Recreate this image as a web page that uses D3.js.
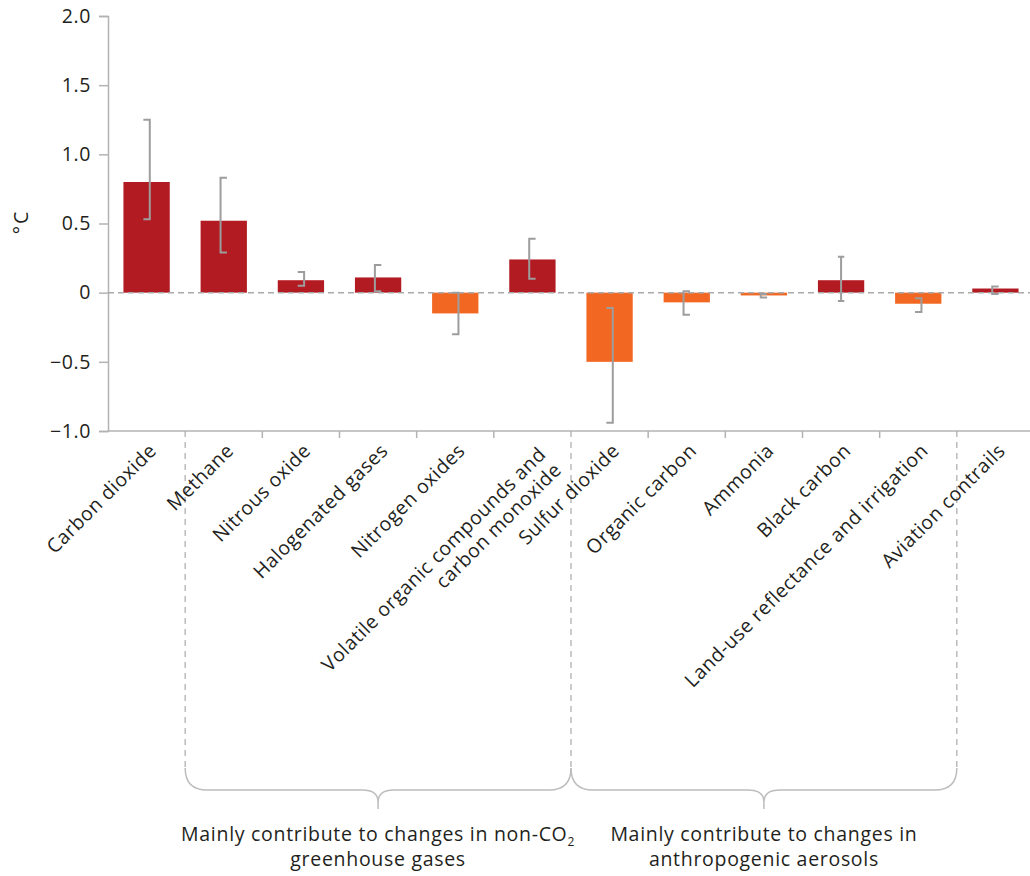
<!DOCTYPE html>
<html>
<head>
<meta charset="utf-8">
<script src="https://cdn.jsdelivr.net/npm/d3@7"></script>
<style>
  body { margin: 0; background: #fff; }
  text { font-family: "Open Sans", "Noto Sans", sans-serif; fill: #231f20; }
</style>
</head>
<body>
<svg id="chart" width="1030" height="876"></svg>
<script>
// Contribution to observed warming by emitted compound (°C)
const categories = [
  "Carbon dioxide", "Methane", "Nitrous oxide", "Halogenated gases",
  "Nitrogen oxides", "Volatile organic compounds and carbon monoxide",
  "Sulfur dioxide", "Organic carbon", "Ammonia", "Black carbon",
  "Land-use reflectance and irrigation", "Aviation contrails"
];
const categoryLines = [
  ["Carbon dioxide"], ["Methane"], ["Nitrous oxide"], ["Halogenated gases"],
  ["Nitrogen oxides"], ["Volatile organic compounds and", "carbon monoxide"],
  ["Sulfur dioxide"], ["Organic carbon"], ["Ammonia"], ["Black carbon"],
  ["Land-use reflectance and irrigation"], ["Aviation contrails"]
];
const values   = [0.80, 0.52, 0.09, 0.11, -0.15, 0.24, -0.50, -0.07, -0.02, 0.09, -0.08, 0.03];
const rangeLow = [0.53, 0.29, 0.05, 0.01, -0.30, 0.10, -0.94, -0.16, -0.035, -0.06, -0.14, -0.01];
const rangeHigh= [1.25, 0.83, 0.15, 0.20, 0.00, 0.39, -0.11, 0.01, -0.01, 0.26, -0.04, 0.045];
// which side the whisker caps point to: left "]", right "[", both "I"
const capSide  = ["left", "right", "left", "right", "left", "right", "left", "right", "right", "both", "left", "right"];

const yTickValues = [-1.0, -0.5, 0, 0.5, 1.0, 1.5, 2.0];
const yTickLabels = ["\u22121.0", "\u22120.5", "0", "0.5", "1.0", "1.5", "2.0"];
const yAxisTitle = "\u00B0C";

const groupNames = [
  ["Mainly contribute to changes in non-CO", "greenhouse gases"],
  ["Mainly contribute to changes in", "anthropogenic aerosols"]
];
const groupFirst = ["Methane", "Sulfur dioxide"];
const groupLast  = ["Volatile organic compounds and carbon monoxide", "Land-use reflectance and irrigation"];

const warmColor = "#b31b23";
const coolColor = "#f26722";
const greyLine  = "#b3b3b3";
const whiskerColor = "#9d9d9d";

const svg = d3.select("#chart");

const x = d3.scaleBand()
  .domain(categories)
  .range([108, 1034])
  .paddingInner(0.4)
  .paddingOuter(0.2);

const y = d3.scaleLinear().domain([-1, 2]).range([431, 16]);

// y axis
const yAxis = d3.axisLeft(y)
  .tickValues(yTickValues)
  .tickFormat((d, i) => yTickLabels[i])
  .tickSize(9)
  .tickPadding(8);
const yg = svg.append("g").attr("transform", "translate(108,0)").call(yAxis);
yg.select(".domain").attr("stroke", greyLine).attr("stroke-width", 1.5);
yg.selectAll(".tick line").attr("stroke", greyLine).attr("stroke-width", 1.5);
yg.selectAll(".tick text")
  .style("font-size", "19.5px")
  .style("letter-spacing", "0.6px")
  .attr("fill", "#231f20");

svg.append("text")
  .attr("transform", "translate(28,222) rotate(-90)")
  .attr("text-anchor", "middle")
  .style("font-size", "19.5px")
  .style("letter-spacing", "2px")
  .text(yAxisTitle);

// x axis baseline at the bottom of the plot
const step = x.step();
const bandStart = i => x(categories[i]) - step * x.paddingInner() / 2;
svg.append("line")
  .attr("x1", 108).attr("x2", 1030)
  .attr("y1", y(-1)).attr("y2", y(-1))
  .attr("stroke", greyLine).attr("stroke-width", 1.5);

// boundaries between categories: short ticks, dashed where a group starts/ends
const groupEdges = new Set();
groupFirst.forEach(c => groupEdges.add(categories.indexOf(c)));
groupLast.forEach(c => groupEdges.add(categories.indexOf(c) + 1));

for (let i = 1; i < categories.length; i++) {
  const bx = bandStart(i);
  if (groupEdges.has(i)) {
    svg.append("line")
      .attr("x1", bx).attr("x2", bx)
      .attr("y1", y(-1)).attr("y2", 768)
      .attr("stroke", "#aaaaaa").attr("stroke-width", 1.2)
      .attr("stroke-dasharray", "6,5");
  } else {
    svg.append("line")
      .attr("x1", bx).attr("x2", bx)
      .attr("y1", y(-1)).attr("y2", y(-1) + 7)
      .attr("stroke", greyLine).attr("stroke-width", 1.5);
  }
}

// bars
svg.append("g").selectAll("rect")
  .data(categories)
  .join("rect")
  .attr("x", d => x(d))
  .attr("width", x.bandwidth())
  .attr("y", (d, i) => y(Math.max(0, values[i])))
  .attr("height", (d, i) => Math.abs(y(values[i]) - y(0)))
  .attr("fill", (d, i) => values[i] >= 0 ? warmColor : coolColor);

// zero reference line
svg.append("line")
  .attr("x1", 108).attr("x2", 1030)
  .attr("y1", y(0)).attr("y2", y(0))
  .attr("stroke", "#aaaaaa").attr("stroke-width", 1.5)
  .attr("stroke-dasharray", "6,4");

// uncertainty whiskers
const cap = 3.2;
svg.append("g").selectAll("path")
  .data(categories)
  .join("path")
  .attr("fill", "none")
  .attr("stroke", whiskerColor)
  .attr("stroke-width", 2)
  .attr("d", (d, i) => {
    const cx = x(d) + x.bandwidth() / 2;
    const y1 = y(rangeHigh[i]), y2 = y(rangeLow[i]);
    if (capSide[i] === "left") {
      const vx = cx + cap;
      return `M${vx - 2 * cap},${y1}H${vx}V${y2}H${vx - 2 * cap}`;
    } else if (capSide[i] === "right") {
      const vx = cx - cap;
      return `M${vx + 2 * cap},${y1}H${vx}V${y2}H${vx + 2 * cap}`;
    }
    return `M${cx - cap},${y1}H${cx + cap}M${cx},${y1}V${y2}M${cx - cap},${y2}H${cx + cap}`;
  });

// category labels, rotated
const lineH = 22;
const labels = svg.append("g").selectAll("text")
  .data(categories)
  .join("text")
  .attr("transform", d => `translate(${x(d) + x.bandwidth() / 2 + 11},452) rotate(-45)`)
  .attr("text-anchor", "end")
  .style("font-size", "19.5px")
  .style("letter-spacing", "0.5px");
labels.each(function(d, i) {
  const lines = categoryLines[i];
  const t = d3.select(this);
  lines.forEach((ln, k) => {
    t.append("tspan")
      .attr("x", 0)
      .attr("y", lines.length > 1 ? 5 + k * lineH : 0)
      .text(ln);
  });
});

// group braces and captions
groupFirst.forEach((first, g) => {
  const x0 = bandStart(categories.indexOf(first));
  const lastIdx = categories.indexOf(groupLast[g]);
  const x1 = bandStart(lastIdx + 1);
  const mid = (x0 + x1) / 2;
  const top = 768, hy = 790, tip = 802, stem = 809;
  svg.append("path")
    .attr("fill", "none")
    .attr("stroke", "#bdbdbd")
    .attr("stroke-width", 1.5)
    .attr("d",
      `M${x0},${top}Q${x0},${hy} ${x0 + 22},${hy}` +
      `L${mid - 16},${hy}Q${mid},${hy} ${mid},${tip}L${mid},${stem}` +
      `M${mid},${tip}Q${mid},${hy} ${mid + 16},${hy}` +
      `L${x1 - 22},${hy}Q${x1},${hy} ${x1},${top}`);

  const cap1 = svg.append("text")
    .attr("text-anchor", "middle")
    .attr("x", mid).attr("y", 841)
    .style("font-size", "19.5px")
    .style("letter-spacing", "0.7px");
  cap1.append("tspan").text(groupNames[g][0]);
  if (g === 0) {
    cap1.append("tspan").attr("dy", 5).style("font-size", "12px").text("2");
  }
  svg.append("text")
    .attr("text-anchor", "middle")
    .attr("x", mid).attr("y", 866)
    .style("font-size", "19.5px")
    .style("letter-spacing", "0.7px")
    .text(groupNames[g][1]);
});
</script>
</body>
</html>
